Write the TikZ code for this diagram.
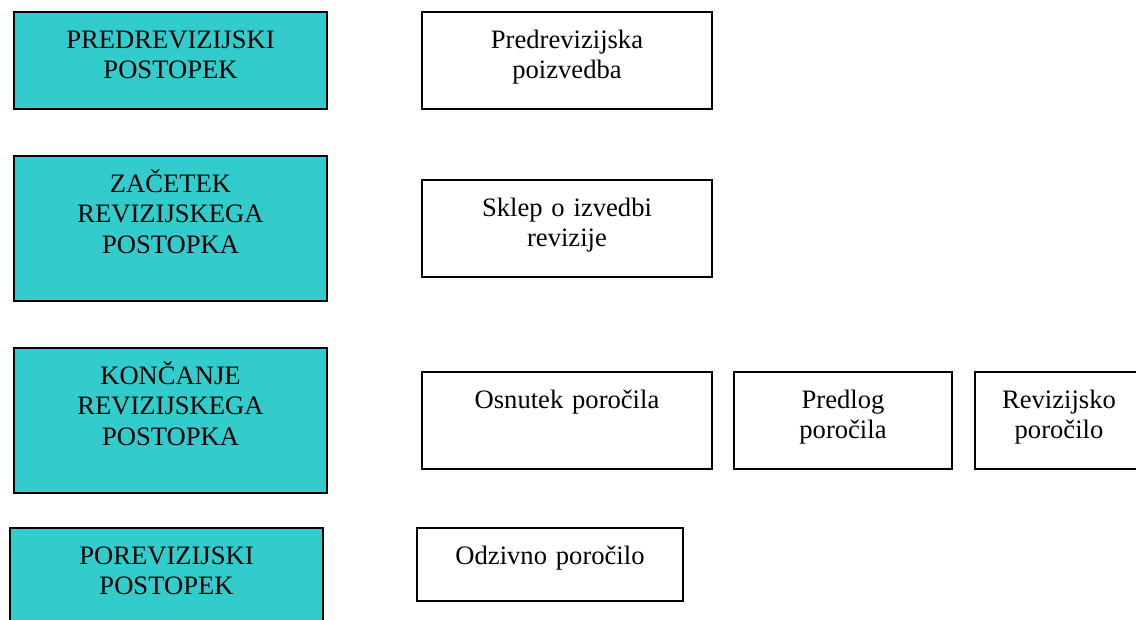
\documentclass[tikz,border=0pt]{standalone}
\usepackage{fontspec}
\setmainfont{Liberation Serif}
\usetikzlibrary{positioning}
\definecolor{phasecyan}{RGB}{51,204,204}

\begin{document}
\begin{tikzpicture}[x=1pt,y=-1pt,node distance=95pt,line width=1.7pt,outer sep=0pt,
	phase node/.style={draw,fill=phasecyan,inner sep=0pt,text width=313pt,align=center,
		font=\fontsize{26.6}{30.7}\selectfont,text height=36pt,text depth=#1},
	phase node/.default=109pt,
	doc node/.style 2 args={draw,fill=white,inner sep=0pt,text width=#1,align=center,
		font=\fontsize{26.6}{30.7}\selectfont,text height=36pt,text depth=#2}]
	\clip (0,0) rectangle (1136,619);
	
	\node[phase node=61pt,anchor=north west] (pre) at (14,12) {PREDREVIZIJSKI\\POSTOPEK};
	\node[phase node,anchor=north west] (start) at (14,156) {ZAČETEK\\REVIZIJSKEGA\\POSTOPKA};
	\node[phase node,anchor=north west] (end) at (14,348) {KONČANJE\\REVIZIJSKEGA\\POSTOPKA};
	\node[phase node,anchor=north west] (post) at (10,528) {POREVIZIJSKI\\POSTOPEK};
	
	\node[doc node={290pt}{61pt}] (inquiry) [right=of pre] {Predrevizijska\\poizvedba};
	\node[doc node={290pt}{61pt}] (decision) [right=of start] {Sklep o izvedbi\\revizije};
	\node[doc node={290pt}{61pt}] (draft) [right=of end] {Osnutek poročila};
	\node[doc node={218pt}{61pt}] (proposal) [right=22pt of draft] {Predlog\\poročila};
	\node[doc node={168pt}{61pt}] (report) [right=23pt of proposal] {Revizijsko\\poročilo};
	\node[doc node={266pt}{37pt}] (response) [right=94pt of post.north east,anchor=north west] {Odzivno poročilo};
\end{tikzpicture}
\end{document}
